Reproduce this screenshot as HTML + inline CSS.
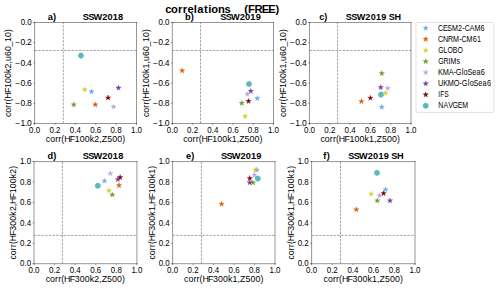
<!DOCTYPE html>
<html><head><meta charset="utf-8"><title>correlations (FREE)</title>
<style>html,body{margin:0;padding:0;background:#fff;width:500px;height:289px;overflow:hidden}
svg text{font-family:"Liberation Sans",sans-serif;fill:#000;stroke:none;white-space:pre}</style></head>
<body>
<svg width="500" height="289" viewBox="0 0 720 416.16" style="display:block"> <defs> <style type="text/css">*{stroke-linejoin: round; stroke-linecap: butt}</style> </defs> <g id="figure_1"> <g id="patch_1"> <path d="M 0 416.16 L 720 416.16 L 720 0 L 0 0 z " style="fill: #ffffff"/> </g> <g id="axes_1"> <g id="patch_2"> <path d="M 49.824 177.84 L 196.56 177.84 L 196.56 32.4 L 49.824 32.4 z " style="fill: #ffffff"/> </g> <g id="line2d_1"> <defs> <path id="maff2723c5c" d="M 0 4 C 1.060812 4 2.078319 3.578535 2.828427 2.828427 C 3.578535 2.078319 4 1.060812 4 0 C 4 -1.060812 3.578535 -2.078319 2.828427 -2.828427 C 2.078319 -3.578535 1.060812 -4 0 -4 C -1.060812 -4 -2.078319 -3.578535 -2.828427 -2.828427 C -3.578535 -2.078319 -4 -1.060812 -4 0 C -4 1.060812 -3.578535 2.078319 -2.828427 2.828427 C -2.078319 3.578535 -1.060812 4 0 4 z " style="stroke: #5ab8c0; stroke-width: 0.5"/> </defs> <g clip-path="url(#pabbf2b5a39)"> <use href="#maff2723c5c" x="116.568" y="80.136" style="fill: #5ab8c0; stroke: #5ab8c0; stroke-width: 0.5"/> </g> </g> <g id="matplotlib.axis_1"> <g id="xtick_1"> <g id="line2d_2"> <defs> <path id="m4820a3fe7b" d="M 0 0 L 0 2 " style="stroke: #000000; stroke-width: 0.6"/> </defs> <g> <use href="#m4820a3fe7b" x="49.824" y="177.84" style="stroke: #000000; stroke-width: 0.6"/> </g> </g> <g id="text_1"> <text x="-0 6.56 9.84" y="0" style="font-size:11.8px" transform="translate(49.82 190.94) translate(-7.95 0) scale(0.9695 1)">0.0</text> </g> </g> <g id="xtick_2"> <g id="line2d_3"> <g> <use href="#m4820a3fe7b" x="79.1712" y="177.84" style="stroke: #000000; stroke-width: 0.6"/> </g> </g> <g id="text_2"> <text x="-0 6.56 9.84" y="0" style="font-size:11.8px" transform="translate(79.17 190.94) translate(-7.95 0) scale(0.9695 1)">0.2</text> </g> </g> <g id="xtick_3"> <g id="line2d_4"> <g> <use href="#m4820a3fe7b" x="108.5184" y="177.84" style="stroke: #000000; stroke-width: 0.6"/> </g> </g> <g id="text_3"> <text x="-0 6.56 9.84" y="0" style="font-size:11.8px" transform="translate(108.52 190.94) translate(-7.95 0) scale(0.9695 1)">0.4</text> </g> </g> <g id="xtick_4"> <g id="line2d_5"> <g> <use href="#m4820a3fe7b" x="137.8656" y="177.84" style="stroke: #000000; stroke-width: 0.6"/> </g> </g> <g id="text_4"> <text x="-0 6.56 9.84" y="0" style="font-size:11.8px" transform="translate(137.87 190.94) translate(-7.95 0) scale(0.9695 1)">0.6</text> </g> </g> <g id="xtick_5"> <g id="line2d_6"> <g> <use href="#m4820a3fe7b" x="167.2128" y="177.84" style="stroke: #000000; stroke-width: 0.6"/> </g> </g> <g id="text_5"> <text x="-0 6.56 9.84" y="0" style="font-size:11.8px" transform="translate(167.21 190.94) translate(-7.95 0) scale(0.9695 1)">0.8</text> </g> </g> <g id="xtick_6"> <g id="line2d_7"> <g> <use href="#m4820a3fe7b" x="196.56" y="177.84" style="stroke: #000000; stroke-width: 0.6"/> </g> </g> <g id="text_6"> <text x="-0 6.56 9.84" y="0" style="font-size:11.8px" transform="translate(196.56 190.94) translate(-7.95 0) scale(0.9695 1)">1.0</text> </g> </g> <g id="text_7"> <text x="-0.07 6.13 13.3 17.94 22.25 26.23 34.41 41.58 48.75 55.93 63.13 69.62 76.76 80.31 88.1 95.27 102.44 109.64" y="0" style="font-size:12.66px" transform="translate(123.19 204.6) translate(-57.12 0) scale(1.0026 1)">corr(HF100k2,Z500)</text> </g> </g> <g id="matplotlib.axis_2"> <g id="ytick_1"> <g id="line2d_8"> <defs> <path id="mfa2b56b965" d="M 0 0 L -2 0 " style="stroke: #000000; stroke-width: 0.6"/> </defs> <g> <use href="#mfa2b56b965" x="49.824" y="177.84" style="stroke: #000000; stroke-width: 0.6"/> </g> </g> <g id="text_8"> <text x="0.57 7.81 14.03 16.96" y="0" style="font-size:11.8px" transform="translate(45.62 181.64) translate(-24.28 0) scale(1.0424 1)">−1.0</text> </g> </g> <g id="ytick_2"> <g id="line2d_9"> <g> <use href="#mfa2b56b965" x="49.824" y="148.752" style="stroke: #000000; stroke-width: 0.6"/> </g> </g> <g id="text_9"> <text x="0.57 7.81 14.03 16.96" y="0" style="font-size:11.8px" transform="translate(45.62 152.55) translate(-24.28 0) scale(1.0424 1)">−0.8</text> </g> </g> <g id="ytick_3"> <g id="line2d_10"> <g> <use href="#mfa2b56b965" x="49.824" y="119.664" style="stroke: #000000; stroke-width: 0.6"/> </g> </g> <g id="text_10"> <text x="0.57 7.81 14.03 16.96" y="0" style="font-size:11.8px" transform="translate(45.62 123.46) translate(-24.28 0) scale(1.0424 1)">−0.6</text> </g> </g> <g id="ytick_4"> <g id="line2d_11"> <g> <use href="#mfa2b56b965" x="49.824" y="90.576" style="stroke: #000000; stroke-width: 0.6"/> </g> </g> <g id="text_11"> <text x="0.57 7.81 14.03 16.96" y="0" style="font-size:11.8px" transform="translate(45.62 94.38) translate(-24.28 0) scale(1.0424 1)">−0.4</text> </g> </g> <g id="ytick_5"> <g id="line2d_12"> <g> <use href="#mfa2b56b965" x="49.824" y="61.488" style="stroke: #000000; stroke-width: 0.6"/> </g> </g> <g id="text_12"> <text x="0.57 7.81 14.03 16.96" y="0" style="font-size:11.8px" transform="translate(45.62 65.29) translate(-24.28 0) scale(1.0424 1)">−0.2</text> </g> </g> <g id="ytick_6"> <g id="line2d_13"> <g> <use href="#mfa2b56b965" x="49.824" y="32.4" style="stroke: #000000; stroke-width: 0.6"/> </g> </g> <g id="text_13"> <text x="-0 6.56 9.84" y="0" style="font-size:11.8px" transform="translate(45.62 36.2) translate(-15.9 0) scale(0.9695 1)">0.0</text> </g> </g> <g id="text_14"> <text x="-0.04 6.21 13.44 18.12 22.48 26.51 34.76 42 49.23 56.47 63.74 70.29 77.48 81.13 88.36 95.59 102.05 108.52 115.75 123" y="0" style="font-size:12.66px" transform="translate(15.68 105.12) rotate(-90) translate(-63.25 0) scale(0.9935 1)">corr(HF100k2,u60_10)</text> </g> </g> <g id="line2d_14"> <path d="M 91.152 177.84 L 91.152 32.4 " clip-path="url(#pabbf2b5a39)" style="fill: none; stroke-dasharray: 3.7,1.6; stroke-dashoffset: 0; stroke: #808080"/> </g> <g id="line2d_15"> <path d="M 49.824 72.72 L 196.56 72.72 " clip-path="url(#pabbf2b5a39)" style="fill: none; stroke-dasharray: 3.7,1.6; stroke-dashoffset: 0; stroke: #808080"/> </g> <g id="line2d_16"> <defs> <path id="m5a22eccf31" d="M 0 -4 L -0.898056 -1.236068 L -3.804226 -1.236068 L -1.453085 0.472136 L -2.351141 3.236068 L -0 1.527864 L 2.351141 3.236068 L 1.453085 0.472136 L 3.804226 -1.236068 L 0.898056 -1.236068 z " style="stroke: #6ba6e9; stroke-width: 0.5; stroke-linejoin: bevel"/> </defs> <g clip-path="url(#pabbf2b5a39)"> <use href="#m5a22eccf31" x="131.76" y="132.048" style="fill: #6ba6e9; stroke: #6ba6e9; stroke-width: 0.5; stroke-linejoin: bevel"/> </g> </g> <g id="line2d_17"> <defs> <path id="mae2730d589" d="M 0 -4 L -0.898056 -1.236068 L -3.804226 -1.236068 L -1.453085 0.472136 L -2.351141 3.236068 L -0 1.527864 L 2.351141 3.236068 L 1.453085 0.472136 L 3.804226 -1.236068 L 0.898056 -1.236068 z " style="stroke: #d95f02; stroke-width: 0.5; stroke-linejoin: bevel"/> </defs> <g clip-path="url(#pabbf2b5a39)"> <use href="#mae2730d589" x="137.232" y="150.768" style="fill: #d95f02; stroke: #d95f02; stroke-width: 0.5; stroke-linejoin: bevel"/> </g> </g> <g id="line2d_18"> <defs> <path id="m6d7258205c" d="M 0 -4 L -0.898056 -1.236068 L -3.804226 -1.236068 L -1.453085 0.472136 L -2.351141 3.236068 L -0 1.527864 L 2.351141 3.236068 L 1.453085 0.472136 L 3.804226 -1.236068 L 0.898056 -1.236068 z " style="stroke: #d6ce2e; stroke-width: 0.5; stroke-linejoin: bevel"/> </defs> <g clip-path="url(#pabbf2b5a39)"> <use href="#m6d7258205c" x="121.968" y="129.096" style="fill: #d6ce2e; stroke: #d6ce2e; stroke-width: 0.5; stroke-linejoin: bevel"/> </g> </g> <g id="line2d_19"> <defs> <path id="ma66a41088c" d="M 0 -4 L -0.898056 -1.236068 L -3.804226 -1.236068 L -1.453085 0.472136 L -2.351141 3.236068 L -0 1.527864 L 2.351141 3.236068 L 1.453085 0.472136 L 3.804226 -1.236068 L 0.898056 -1.236068 z " style="stroke: #6b9a2c; stroke-width: 0.5; stroke-linejoin: bevel"/> </defs> <g clip-path="url(#pabbf2b5a39)"> <use href="#ma66a41088c" x="106.272" y="150.768" style="fill: #6b9a2c; stroke: #6b9a2c; stroke-width: 0.5; stroke-linejoin: bevel"/> </g> </g> <g id="line2d_20"> <defs> <path id="m776f7f7f80" d="M 0 -4 L -0.898056 -1.236068 L -3.804226 -1.236068 L -1.453085 0.472136 L -2.351141 3.236068 L -0 1.527864 L 2.351141 3.236068 L 1.453085 0.472136 L 3.804226 -1.236068 L 0.898056 -1.236068 z " style="stroke: #bca4dd; stroke-width: 0.5; stroke-linejoin: bevel"/> </defs> <g clip-path="url(#pabbf2b5a39)"> <use href="#m776f7f7f80" x="163.44" y="153.792" style="fill: #bca4dd; stroke: #bca4dd; stroke-width: 0.5; stroke-linejoin: bevel"/> </g> </g> <g id="line2d_21"> <defs> <path id="m835cb8bf85" d="M 0 -4 L -0.898056 -1.236068 L -3.804226 -1.236068 L -1.453085 0.472136 L -2.351141 3.236068 L -0 1.527864 L 2.351141 3.236068 L 1.453085 0.472136 L 3.804226 -1.236068 L 0.898056 -1.236068 z " style="stroke: #7836ae; stroke-width: 0.5; stroke-linejoin: bevel"/> </defs> <g clip-path="url(#pabbf2b5a39)"> <use href="#m835cb8bf85" x="170.64" y="126.576" style="fill: #7836ae; stroke: #7836ae; stroke-width: 0.5; stroke-linejoin: bevel"/> </g> </g> <g id="line2d_22"> <defs> <path id="m37d7a6bea6" d="M 0 -4 L -0.898056 -1.236068 L -3.804226 -1.236068 L -1.453085 0.472136 L -2.351141 3.236068 L -0 1.527864 L 2.351141 3.236068 L 1.453085 0.472136 L 3.804226 -1.236068 L 0.898056 -1.236068 z " style="stroke: #7a0000; stroke-width: 0.5; stroke-linejoin: bevel"/> </defs> <g clip-path="url(#pabbf2b5a39)"> <use href="#m37d7a6bea6" x="155.664" y="140.76" style="fill: #7a0000; stroke: #7a0000; stroke-width: 0.5; stroke-linejoin: bevel"/> </g> </g> <g id="patch_3"> <path d="M 49.824 177.84 L 49.824 32.4 " style="fill: none; stroke: #000000; stroke-width: 0.6; stroke-linejoin: miter; stroke-linecap: square"/> </g> <g id="patch_4"> <path d="M 196.56 177.84 L 196.56 32.4 " style="fill: none; stroke: #000000; stroke-width: 0.6; stroke-linejoin: miter; stroke-linecap: square"/> </g> <g id="patch_5"> <path d="M 49.824 177.84 L 196.56 177.84 " style="fill: none; stroke: #000000; stroke-width: 0.6; stroke-linejoin: miter; stroke-linecap: square"/> </g> <g id="patch_6"> <path d="M 49.824 32.4 L 196.56 32.4 " style="fill: none; stroke: #000000; stroke-width: 0.6; stroke-linejoin: miter; stroke-linecap: square"/> </g> <g id="text_15"> <text x="0.01 7.14 11.57 15.11 18.66 22.2 25.74 29.28 32.82 36.36 39.9 43.44 46.48 53.81 60.92 72.46 79.53 86.61 93.69" y="0" style="font-size:12.32px;font-weight:700" transform="translate(123.19 28.9) translate(-54.42 0) scale(1.0814 1)">a)          SSW2018</text> </g> </g> <g id="axes_2"> <g id="patch_7"> <path d="M 248.184 177.84 L 393.84 177.84 L 393.84 32.4 L 248.184 32.4 z " style="fill: #ffffff"/> </g> <g id="line2d_23"> <g clip-path="url(#p98be9c0c4a)"> <use href="#maff2723c5c" x="358.56" y="120.96" style="fill: #5ab8c0; stroke: #5ab8c0; stroke-width: 0.5"/> </g> </g> <g id="matplotlib.axis_3"> <g id="xtick_7"> <g id="line2d_24"> <g> <use href="#m4820a3fe7b" x="248.184" y="177.84" style="stroke: #000000; stroke-width: 0.6"/> </g> </g> <g id="text_16"> <text x="-0 6.56 9.84" y="0" style="font-size:11.8px" transform="translate(248.18 190.94) translate(-7.95 0) scale(0.9695 1)">0.0</text> </g> </g> <g id="xtick_8"> <g id="line2d_25"> <g> <use href="#m4820a3fe7b" x="277.3152" y="177.84" style="stroke: #000000; stroke-width: 0.6"/> </g> </g> <g id="text_17"> <text x="-0 6.56 9.84" y="0" style="font-size:11.8px" transform="translate(277.32 190.94) translate(-7.95 0) scale(0.9695 1)">0.2</text> </g> </g> <g id="xtick_9"> <g id="line2d_26"> <g> <use href="#m4820a3fe7b" x="306.4464" y="177.84" style="stroke: #000000; stroke-width: 0.6"/> </g> </g> <g id="text_18"> <text x="-0 6.56 9.84" y="0" style="font-size:11.8px" transform="translate(306.45 190.94) translate(-7.95 0) scale(0.9695 1)">0.4</text> </g> </g> <g id="xtick_10"> <g id="line2d_27"> <g> <use href="#m4820a3fe7b" x="335.5776" y="177.84" style="stroke: #000000; stroke-width: 0.6"/> </g> </g> <g id="text_19"> <text x="-0 6.56 9.84" y="0" style="font-size:11.8px" transform="translate(335.58 190.94) translate(-7.95 0) scale(0.9695 1)">0.6</text> </g> </g> <g id="xtick_11"> <g id="line2d_28"> <g> <use href="#m4820a3fe7b" x="364.7088" y="177.84" style="stroke: #000000; stroke-width: 0.6"/> </g> </g> <g id="text_20"> <text x="-0 6.56 9.84" y="0" style="font-size:11.8px" transform="translate(364.71 190.94) translate(-7.95 0) scale(0.9695 1)">0.8</text> </g> </g> <g id="xtick_12"> <g id="line2d_29"> <g> <use href="#m4820a3fe7b" x="393.84" y="177.84" style="stroke: #000000; stroke-width: 0.6"/> </g> </g> <g id="text_21"> <text x="-0 6.56 9.84" y="0" style="font-size:11.8px" transform="translate(393.84 190.94) translate(-7.95 0) scale(0.9695 1)">1.0</text> </g> </g> <g id="text_22"> <text x="-0.07 6.13 13.3 17.94 22.25 26.23 34.41 41.58 48.75 55.93 63.13 69.62 76.76 80.31 88.1 95.27 102.44 109.64" y="0" style="font-size:12.66px" transform="translate(321.01 204.6) translate(-57.12 0) scale(1.0026 1)">corr(HF100k1,Z500)</text> </g> </g> <g id="matplotlib.axis_4"> <g id="ytick_7"> <g id="line2d_30"> <g> <use href="#mfa2b56b965" x="248.184" y="177.84" style="stroke: #000000; stroke-width: 0.6"/> </g> </g> <g id="text_23"> <text x="0.57 7.81 14.03 16.96" y="0" style="font-size:11.8px" transform="translate(243.98 181.64) translate(-24.28 0) scale(1.0424 1)">−1.0</text> </g> </g> <g id="ytick_8"> <g id="line2d_31"> <g> <use href="#mfa2b56b965" x="248.184" y="148.752" style="stroke: #000000; stroke-width: 0.6"/> </g> </g> <g id="text_24"> <text x="0.57 7.81 14.03 16.96" y="0" style="font-size:11.8px" transform="translate(243.98 152.55) translate(-24.28 0) scale(1.0424 1)">−0.8</text> </g> </g> <g id="ytick_9"> <g id="line2d_32"> <g> <use href="#mfa2b56b965" x="248.184" y="119.664" style="stroke: #000000; stroke-width: 0.6"/> </g> </g> <g id="text_25"> <text x="0.57 7.81 14.03 16.96" y="0" style="font-size:11.8px" transform="translate(243.98 123.46) translate(-24.28 0) scale(1.0424 1)">−0.6</text> </g> </g> <g id="ytick_10"> <g id="line2d_33"> <g> <use href="#mfa2b56b965" x="248.184" y="90.576" style="stroke: #000000; stroke-width: 0.6"/> </g> </g> <g id="text_26"> <text x="0.57 7.81 14.03 16.96" y="0" style="font-size:11.8px" transform="translate(243.98 94.38) translate(-24.28 0) scale(1.0424 1)">−0.4</text> </g> </g> <g id="ytick_11"> <g id="line2d_34"> <g> <use href="#mfa2b56b965" x="248.184" y="61.488" style="stroke: #000000; stroke-width: 0.6"/> </g> </g> <g id="text_27"> <text x="0.57 7.81 14.03 16.96" y="0" style="font-size:11.8px" transform="translate(243.98 65.29) translate(-24.28 0) scale(1.0424 1)">−0.2</text> </g> </g> <g id="ytick_12"> <g id="line2d_35"> <g> <use href="#mfa2b56b965" x="248.184" y="32.4" style="stroke: #000000; stroke-width: 0.6"/> </g> </g> <g id="text_28"> <text x="-0 6.56 9.84" y="0" style="font-size:11.8px" transform="translate(243.98 36.2) translate(-15.9 0) scale(0.9695 1)">0.0</text> </g> </g> <g id="text_29"> <text x="-0.04 6.21 13.44 18.12 22.48 26.51 34.76 42 49.23 56.47 63.74 70.29 77.48 81.13 88.36 95.59 102.05 108.52 115.75 123" y="0" style="font-size:12.66px" transform="translate(214.04 105.12) rotate(-90) translate(-63.25 0) scale(0.9935 1)">corr(HF100k1,u60_10)</text> </g> </g> <g id="line2d_36"> <path d="M 288.72 177.84 L 288.72 32.4 " clip-path="url(#p98be9c0c4a)" style="fill: none; stroke-dasharray: 3.7,1.6; stroke-dashoffset: 0; stroke: #808080"/> </g> <g id="line2d_37"> <path d="M 248.184 72.72 L 393.84 72.72 " clip-path="url(#p98be9c0c4a)" style="fill: none; stroke-dasharray: 3.7,1.6; stroke-dashoffset: 0; stroke: #808080"/> </g> <g id="line2d_38"> <g clip-path="url(#p98be9c0c4a)"> <use href="#m5a22eccf31" x="370.512" y="141.696" style="fill: #6ba6e9; stroke: #6ba6e9; stroke-width: 0.5; stroke-linejoin: bevel"/> </g> </g> <g id="line2d_39"> <g clip-path="url(#p98be9c0c4a)"> <use href="#mae2730d589" x="262.224" y="101.808" style="fill: #d95f02; stroke: #d95f02; stroke-width: 0.5; stroke-linejoin: bevel"/> </g> </g> <g id="line2d_40"> <g clip-path="url(#p98be9c0c4a)"> <use href="#m6d7258205c" x="352.944" y="167.616" style="fill: #d6ce2e; stroke: #d6ce2e; stroke-width: 0.5; stroke-linejoin: bevel"/> </g> </g> <g id="line2d_41"> <g clip-path="url(#p98be9c0c4a)"> <use href="#ma66a41088c" x="348.192" y="148.608" style="fill: #6b9a2c; stroke: #6b9a2c; stroke-width: 0.5; stroke-linejoin: bevel"/> </g> </g> <g id="line2d_42"> <g clip-path="url(#p98be9c0c4a)"> <use href="#m776f7f7f80" x="356.112" y="135.648" style="fill: #bca4dd; stroke: #bca4dd; stroke-width: 0.5; stroke-linejoin: bevel"/> </g> </g> <g id="line2d_43"> <g clip-path="url(#p98be9c0c4a)"> <use href="#m835cb8bf85" x="361.152" y="131.328" style="fill: #7836ae; stroke: #7836ae; stroke-width: 0.5; stroke-linejoin: bevel"/> </g> </g> <g id="line2d_44"> <g clip-path="url(#p98be9c0c4a)"> <use href="#m37d7a6bea6" x="357.84" y="145.728" style="fill: #7a0000; stroke: #7a0000; stroke-width: 0.5; stroke-linejoin: bevel"/> </g> </g> <g id="patch_8"> <path d="M 248.184 177.84 L 248.184 32.4 " style="fill: none; stroke: #000000; stroke-width: 0.6; stroke-linejoin: miter; stroke-linecap: square"/> </g> <g id="patch_9"> <path d="M 393.84 177.84 L 393.84 32.4 " style="fill: none; stroke: #000000; stroke-width: 0.6; stroke-linejoin: miter; stroke-linecap: square"/> </g> <g id="patch_10"> <path d="M 248.184 177.84 L 393.84 177.84 " style="fill: none; stroke: #000000; stroke-width: 0.6; stroke-linejoin: miter; stroke-linecap: square"/> </g> <g id="patch_11"> <path d="M 248.184 32.4 L 393.84 32.4 " style="fill: none; stroke: #000000; stroke-width: 0.6; stroke-linejoin: miter; stroke-linecap: square"/> </g> <g id="text_30"> <text x="-0.11 7.58 12.02 15.57 19.13 22.68 26.23 29.78 33.33 36.88 40.43 43.98 47.03 54.37 61.51 73.07 80.16 87.26 94.35" y="0" style="font-size:12.32px;font-weight:700" transform="translate(321.01 28.9) translate(-54.65 0) scale(1.0786 1)">b)          SSW2019</text> </g> </g> <g id="axes_3"> <g id="patch_12"> <path d="M 445.68 177.84 L 591.84 177.84 L 591.84 32.4 L 445.68 32.4 z " style="fill: #ffffff"/> </g> <g id="line2d_45"> <g clip-path="url(#p1741dfff88)"> <use href="#maff2723c5c" x="548.64" y="136.296" style="fill: #5ab8c0; stroke: #5ab8c0; stroke-width: 0.5"/> </g> </g> <g id="matplotlib.axis_5"> <g id="xtick_13"> <g id="line2d_46"> <g> <use href="#m4820a3fe7b" x="445.68" y="177.84" style="stroke: #000000; stroke-width: 0.6"/> </g> </g> <g id="text_31"> <text x="-0 6.56 9.84" y="0" style="font-size:11.8px" transform="translate(445.68 190.94) translate(-7.95 0) scale(0.9695 1)">0.0</text> </g> </g> <g id="xtick_14"> <g id="line2d_47"> <g> <use href="#m4820a3fe7b" x="474.912" y="177.84" style="stroke: #000000; stroke-width: 0.6"/> </g> </g> <g id="text_32"> <text x="-0 6.56 9.84" y="0" style="font-size:11.8px" transform="translate(474.91 190.94) translate(-7.95 0) scale(0.9695 1)">0.2</text> </g> </g> <g id="xtick_15"> <g id="line2d_48"> <g> <use href="#m4820a3fe7b" x="504.144" y="177.84" style="stroke: #000000; stroke-width: 0.6"/> </g> </g> <g id="text_33"> <text x="-0 6.56 9.84" y="0" style="font-size:11.8px" transform="translate(504.14 190.94) translate(-7.95 0) scale(0.9695 1)">0.4</text> </g> </g> <g id="xtick_16"> <g id="line2d_49"> <g> <use href="#m4820a3fe7b" x="533.376" y="177.84" style="stroke: #000000; stroke-width: 0.6"/> </g> </g> <g id="text_34"> <text x="-0 6.56 9.84" y="0" style="font-size:11.8px" transform="translate(533.38 190.94) translate(-7.95 0) scale(0.9695 1)">0.6</text> </g> </g> <g id="xtick_17"> <g id="line2d_50"> <g> <use href="#m4820a3fe7b" x="562.608" y="177.84" style="stroke: #000000; stroke-width: 0.6"/> </g> </g> <g id="text_35"> <text x="-0 6.56 9.84" y="0" style="font-size:11.8px" transform="translate(562.61 190.94) translate(-7.95 0) scale(0.9695 1)">0.8</text> </g> </g> <g id="xtick_18"> <g id="line2d_51"> <g> <use href="#m4820a3fe7b" x="591.84" y="177.84" style="stroke: #000000; stroke-width: 0.6"/> </g> </g> <g id="text_36"> <text x="-0 6.56 9.84" y="0" style="font-size:11.8px" transform="translate(591.84 190.94) translate(-7.95 0) scale(0.9695 1)">1.0</text> </g> </g> <g id="text_37"> <text x="-0.07 6.13 13.3 17.94 22.25 26.23 34.41 41.58 48.75 55.93 63.13 69.62 76.76 80.31 88.1 95.27 102.44 109.64" y="0" style="font-size:12.66px" transform="translate(518.76 204.6) translate(-57.12 0) scale(1.0026 1)">corr(HF100k1,Z500)</text> </g> </g> <g id="matplotlib.axis_6"> <g id="ytick_13"> <g id="line2d_52"> <g> <use href="#mfa2b56b965" x="445.68" y="177.84" style="stroke: #000000; stroke-width: 0.6"/> </g> </g> <g id="text_38"> <text x="0.57 7.81 14.03 16.96" y="0" style="font-size:11.8px" transform="translate(441.48 181.64) translate(-24.28 0) scale(1.0424 1)">−1.0</text> </g> </g> <g id="ytick_14"> <g id="line2d_53"> <g> <use href="#mfa2b56b965" x="445.68" y="148.752" style="stroke: #000000; stroke-width: 0.6"/> </g> </g> <g id="text_39"> <text x="0.57 7.81 14.03 16.96" y="0" style="font-size:11.8px" transform="translate(441.48 152.55) translate(-24.28 0) scale(1.0424 1)">−0.8</text> </g> </g> <g id="ytick_15"> <g id="line2d_54"> <g> <use href="#mfa2b56b965" x="445.68" y="119.664" style="stroke: #000000; stroke-width: 0.6"/> </g> </g> <g id="text_40"> <text x="0.57 7.81 14.03 16.96" y="0" style="font-size:11.8px" transform="translate(441.48 123.46) translate(-24.28 0) scale(1.0424 1)">−0.6</text> </g> </g> <g id="ytick_16"> <g id="line2d_55"> <g> <use href="#mfa2b56b965" x="445.68" y="90.576" style="stroke: #000000; stroke-width: 0.6"/> </g> </g> <g id="text_41"> <text x="0.57 7.81 14.03 16.96" y="0" style="font-size:11.8px" transform="translate(441.48 94.38) translate(-24.28 0) scale(1.0424 1)">−0.4</text> </g> </g> <g id="ytick_17"> <g id="line2d_56"> <g> <use href="#mfa2b56b965" x="445.68" y="61.488" style="stroke: #000000; stroke-width: 0.6"/> </g> </g> <g id="text_42"> <text x="0.57 7.81 14.03 16.96" y="0" style="font-size:11.8px" transform="translate(441.48 65.29) translate(-24.28 0) scale(1.0424 1)">−0.2</text> </g> </g> <g id="ytick_18"> <g id="line2d_57"> <g> <use href="#mfa2b56b965" x="445.68" y="32.4" style="stroke: #000000; stroke-width: 0.6"/> </g> </g> <g id="text_43"> <text x="-0 6.56 9.84" y="0" style="font-size:11.8px" transform="translate(441.48 36.2) translate(-15.9 0) scale(0.9695 1)">0.0</text> </g> </g> <g id="text_44"> <text x="-0.04 6.21 13.44 18.12 22.48 26.51 34.76 42 49.23 56.47 63.74 70.29 77.48 81.13 88.36 95.59 102.05 108.52 115.75 123" y="0" style="font-size:12.66px" transform="translate(411.53 105.12) rotate(-90) translate(-63.25 0) scale(0.9935 1)">corr(HF100k1,u60_10)</text> </g> </g> <g id="line2d_58"> <path d="M 486.144 177.84 L 486.144 32.4 " clip-path="url(#p1741dfff88)" style="fill: none; stroke-dasharray: 3.7,1.6; stroke-dashoffset: 0; stroke: #808080"/> </g> <g id="line2d_59"> <path d="M 445.68 72.72 L 591.84 72.72 " clip-path="url(#p1741dfff88)" style="fill: none; stroke-dasharray: 3.7,1.6; stroke-dashoffset: 0; stroke: #808080"/> </g> <g id="line2d_60"> <g clip-path="url(#p1741dfff88)"> <use href="#m5a22eccf31" x="549.792" y="154.224" style="fill: #6ba6e9; stroke: #6ba6e9; stroke-width: 0.5; stroke-linejoin: bevel"/> </g> </g> <g id="line2d_61"> <g clip-path="url(#p1741dfff88)"> <use href="#mae2730d589" x="520.416" y="146.016" style="fill: #d95f02; stroke: #d95f02; stroke-width: 0.5; stroke-linejoin: bevel"/> </g> </g> <g id="line2d_62"> <g clip-path="url(#p1741dfff88)"> <use href="#m6d7258205c" x="554.976" y="134.064" style="fill: #d6ce2e; stroke: #d6ce2e; stroke-width: 0.5; stroke-linejoin: bevel"/> </g> </g> <g id="line2d_63"> <g clip-path="url(#p1741dfff88)"> <use href="#ma66a41088c" x="549.792" y="105.696" style="fill: #6b9a2c; stroke: #6b9a2c; stroke-width: 0.5; stroke-linejoin: bevel"/> </g> </g> <g id="line2d_64"> <g clip-path="url(#p1741dfff88)"> <use href="#m776f7f7f80" x="558.288" y="127.152" style="fill: #bca4dd; stroke: #bca4dd; stroke-width: 0.5; stroke-linejoin: bevel"/> </g> </g> <g id="line2d_65"> <g clip-path="url(#p1741dfff88)"> <use href="#m835cb8bf85" x="548.352" y="125.856" style="fill: #7836ae; stroke: #7836ae; stroke-width: 0.5; stroke-linejoin: bevel"/> </g> </g> <g id="line2d_66"> <g clip-path="url(#p1741dfff88)"> <use href="#m37d7a6bea6" x="533.376" y="141.12" style="fill: #7a0000; stroke: #7a0000; stroke-width: 0.5; stroke-linejoin: bevel"/> </g> </g> <g id="patch_13"> <path d="M 445.68 177.84 L 445.68 32.4 " style="fill: none; stroke: #000000; stroke-width: 0.6; stroke-linejoin: miter; stroke-linecap: square"/> </g> <g id="patch_14"> <path d="M 591.84 177.84 L 591.84 32.4 " style="fill: none; stroke: #000000; stroke-width: 0.6; stroke-linejoin: miter; stroke-linecap: square"/> </g> <g id="patch_15"> <path d="M 445.68 177.84 L 591.84 177.84 " style="fill: none; stroke: #000000; stroke-width: 0.6; stroke-linejoin: miter; stroke-linecap: square"/> </g> <g id="patch_16"> <path d="M 445.68 32.4 L 591.84 32.4 " style="fill: none; stroke: #000000; stroke-width: 0.6; stroke-linejoin: miter; stroke-linecap: square"/> </g> <g id="text_45"> <text x="-0.35 6.48 11.01 14.63 18.24 21.86 25.48 29.1 32.71 35.87 43.35 50.65 62.39 69.62 76.85 84.08 91.22 94.37 102.13" y="0" style="font-size:12.32px;font-weight:700" transform="translate(518.76 28.9) translate(-58.71 0) scale(1.0585 1)">c)       SSW2019 SH</text> </g> </g> <g id="axes_4"> <g id="patch_17"> <path d="M 48.96 379.728 L 197.136 379.728 L 197.136 232.704 L 48.96 232.704 z " style="fill: #ffffff"/> </g> <g id="line2d_67"> <g clip-path="url(#pd72660872e)"> <use href="#maff2723c5c" x="140.832" y="267.552" style="fill: #5ab8c0; stroke: #5ab8c0; stroke-width: 0.5"/> </g> </g> <g id="matplotlib.axis_7"> <g id="xtick_19"> <g id="line2d_68"> <g> <use href="#m4820a3fe7b" x="48.96" y="379.728" style="stroke: #000000; stroke-width: 0.6"/> </g> </g> <g id="text_46"> <text x="-0 6.56 9.84" y="0" style="font-size:11.8px" transform="translate(48.96 392.83) translate(-7.95 0) scale(0.9695 1)">0.0</text> </g> </g> <g id="xtick_20"> <g id="line2d_69"> <g> <use href="#m4820a3fe7b" x="78.5952" y="379.728" style="stroke: #000000; stroke-width: 0.6"/> </g> </g> <g id="text_47"> <text x="-0 6.56 9.84" y="0" style="font-size:11.8px" transform="translate(78.6 392.83) translate(-7.95 0) scale(0.9695 1)">0.2</text> </g> </g> <g id="xtick_21"> <g id="line2d_70"> <g> <use href="#m4820a3fe7b" x="108.2304" y="379.728" style="stroke: #000000; stroke-width: 0.6"/> </g> </g> <g id="text_48"> <text x="-0 6.56 9.84" y="0" style="font-size:11.8px" transform="translate(108.23 392.83) translate(-7.95 0) scale(0.9695 1)">0.4</text> </g> </g> <g id="xtick_22"> <g id="line2d_71"> <g> <use href="#m4820a3fe7b" x="137.8656" y="379.728" style="stroke: #000000; stroke-width: 0.6"/> </g> </g> <g id="text_49"> <text x="-0 6.56 9.84" y="0" style="font-size:11.8px" transform="translate(137.87 392.83) translate(-7.95 0) scale(0.9695 1)">0.6</text> </g> </g> <g id="xtick_23"> <g id="line2d_72"> <g> <use href="#m4820a3fe7b" x="167.5008" y="379.728" style="stroke: #000000; stroke-width: 0.6"/> </g> </g> <g id="text_50"> <text x="-0 6.56 9.84" y="0" style="font-size:11.8px" transform="translate(167.5 392.83) translate(-7.95 0) scale(0.9695 1)">0.8</text> </g> </g> <g id="xtick_24"> <g id="line2d_73"> <g> <use href="#m4820a3fe7b" x="197.136" y="379.728" style="stroke: #000000; stroke-width: 0.6"/> </g> </g> <g id="text_51"> <text x="-0 6.56 9.84" y="0" style="font-size:11.8px" transform="translate(197.14 392.83) translate(-7.95 0) scale(0.9695 1)">1.0</text> </g> </g> <g id="text_52"> <text x="-0.07 6.13 13.3 17.94 22.25 26.23 34.41 41.58 48.75 55.93 63.13 69.62 76.76 80.31 88.1 95.27 102.44 109.64" y="0" style="font-size:12.66px" transform="translate(123.05 406.49) translate(-57.12 0) scale(1.0026 1)">corr(HF300k2,Z500)</text> </g> </g> <g id="matplotlib.axis_8"> <g id="ytick_19"> <g id="line2d_74"> <g> <use href="#mfa2b56b965" x="48.96" y="379.728" style="stroke: #000000; stroke-width: 0.6"/> </g> </g> <g id="text_53"> <text x="-0 6.56 9.84" y="0" style="font-size:11.8px" transform="translate(44.76 383.53) translate(-15.9 0) scale(0.9695 1)">0.0</text> </g> </g> <g id="ytick_20"> <g id="line2d_75"> <g> <use href="#mfa2b56b965" x="48.96" y="350.3232" style="stroke: #000000; stroke-width: 0.6"/> </g> </g> <g id="text_54"> <text x="-0 6.56 9.84" y="0" style="font-size:11.8px" transform="translate(44.76 354.12) translate(-15.9 0) scale(0.9695 1)">0.2</text> </g> </g> <g id="ytick_21"> <g id="line2d_76"> <g> <use href="#mfa2b56b965" x="48.96" y="320.9184" style="stroke: #000000; stroke-width: 0.6"/> </g> </g> <g id="text_55"> <text x="-0 6.56 9.84" y="0" style="font-size:11.8px" transform="translate(44.76 324.72) translate(-15.9 0) scale(0.9695 1)">0.4</text> </g> </g> <g id="ytick_22"> <g id="line2d_77"> <g> <use href="#mfa2b56b965" x="48.96" y="291.5136" style="stroke: #000000; stroke-width: 0.6"/> </g> </g> <g id="text_56"> <text x="-0 6.56 9.84" y="0" style="font-size:11.8px" transform="translate(44.76 295.31) translate(-15.9 0) scale(0.9695 1)">0.6</text> </g> </g> <g id="ytick_23"> <g id="line2d_78"> <g> <use href="#mfa2b56b965" x="48.96" y="262.1088" style="stroke: #000000; stroke-width: 0.6"/> </g> </g> <g id="text_57"> <text x="-0 6.56 9.84" y="0" style="font-size:11.8px" transform="translate(44.76 265.91) translate(-15.9 0) scale(0.9695 1)">0.8</text> </g> </g> <g id="ytick_24"> <g id="line2d_79"> <g> <use href="#mfa2b56b965" x="48.96" y="232.704" style="stroke: #000000; stroke-width: 0.6"/> </g> </g> <g id="text_58"> <text x="-0 6.56 9.84" y="0" style="font-size:11.8px" transform="translate(44.76 236.5) translate(-15.9 0) scale(0.9695 1)">1.0</text> </g> </g> <g id="text_59"> <text x="-0.03 6.24 13.48 18.17 22.54 26.59 34.86 42.11 49.36 56.62 63.9 70.48 77.68 80.96 89.23 96.49 103.74 111 118.28 124.85 132.12" y="0" style="font-size:12.66px" transform="translate(23.51 306.22) rotate(-90) translate(-67.61 0) scale(0.9910 1)">corr(HF300k2,HF100k2)</text> </g> </g> <g id="line2d_80"> <path d="M 89.856 379.728 L 89.856 232.704 " clip-path="url(#pd72660872e)" style="fill: none; stroke-dasharray: 3.7,1.6; stroke-dashoffset: 0; stroke: #808080"/> </g> <g id="line2d_81"> <path d="M 48.96 338.976 L 197.136 338.976 " clip-path="url(#pd72660872e)" style="fill: none; stroke-dasharray: 3.7,1.6; stroke-dashoffset: 0; stroke: #808080"/> </g> <g id="line2d_82"> <g clip-path="url(#pd72660872e)"> <use href="#m5a22eccf31" x="150.48" y="260.64" style="fill: #6ba6e9; stroke: #6ba6e9; stroke-width: 0.5; stroke-linejoin: bevel"/> </g> </g> <g id="line2d_83"> <g clip-path="url(#pd72660872e)"> <use href="#mae2730d589" x="171.36" y="266.976" style="fill: #d95f02; stroke: #d95f02; stroke-width: 0.5; stroke-linejoin: bevel"/> </g> </g> <g id="line2d_84"> <g clip-path="url(#pd72660872e)"> <use href="#m6d7258205c" x="156.816" y="274.464" style="fill: #d6ce2e; stroke: #d6ce2e; stroke-width: 0.5; stroke-linejoin: bevel"/> </g> </g> <g id="line2d_85"> <g clip-path="url(#pd72660872e)"> <use href="#ma66a41088c" x="161.712" y="280.512" style="fill: #6b9a2c; stroke: #6b9a2c; stroke-width: 0.5; stroke-linejoin: bevel"/> </g> </g> <g id="line2d_86"> <g clip-path="url(#pd72660872e)"> <use href="#m776f7f7f80" x="158.976" y="249.84" style="fill: #bca4dd; stroke: #bca4dd; stroke-width: 0.5; stroke-linejoin: bevel"/> </g> </g> <g id="line2d_87"> <g clip-path="url(#pd72660872e)"> <use href="#m835cb8bf85" x="169.632" y="258.48" style="fill: #7836ae; stroke: #7836ae; stroke-width: 0.5; stroke-linejoin: bevel"/> </g> </g> <g id="line2d_88"> <g clip-path="url(#pd72660872e)"> <use href="#m37d7a6bea6" x="172.944" y="255.456" style="fill: #7a0000; stroke: #7a0000; stroke-width: 0.5; stroke-linejoin: bevel"/> </g> </g> <g id="patch_18"> <path d="M 48.96 379.728 L 48.96 232.704 " style="fill: none; stroke: #000000; stroke-width: 0.6; stroke-linejoin: miter; stroke-linecap: square"/> </g> <g id="patch_19"> <path d="M 197.136 379.728 L 197.136 232.704 " style="fill: none; stroke: #000000; stroke-width: 0.6; stroke-linejoin: miter; stroke-linecap: square"/> </g> <g id="patch_20"> <path d="M 48.96 379.728 L 197.136 379.728 " style="fill: none; stroke: #000000; stroke-width: 0.6; stroke-linejoin: miter; stroke-linecap: square"/> </g> <g id="patch_21"> <path d="M 48.96 232.704 L 197.136 232.704 " style="fill: none; stroke: #000000; stroke-width: 0.6; stroke-linejoin: miter; stroke-linecap: square"/> </g> <g id="text_60"> <text x="-0.11 7.58 12.02 15.57 19.13 22.68 26.23 29.78 33.33 36.88 40.43 43.98 47.03 54.37 61.51 73.07 80.16 87.26 94.35" y="0" style="font-size:12.32px;font-weight:700" transform="translate(123.05 229.2) translate(-54.65 0) scale(1.0786 1)">d)          SSW2018</text> </g> </g> <g id="axes_5"> <g id="patch_22"> <path d="M 248.544 379.728 L 396 379.728 L 396 232.704 L 248.544 232.704 z " style="fill: #ffffff"/> </g> <g id="line2d_89"> <g clip-path="url(#pa0bd80ae73)"> <use href="#maff2723c5c" x="371.232" y="257.112" style="fill: #5ab8c0; stroke: #5ab8c0; stroke-width: 0.5"/> </g> </g> <g id="matplotlib.axis_9"> <g id="xtick_25"> <g id="line2d_90"> <g> <use href="#m4820a3fe7b" x="248.544" y="379.728" style="stroke: #000000; stroke-width: 0.6"/> </g> </g> <g id="text_61"> <text x="-0 6.56 9.84" y="0" style="font-size:11.8px" transform="translate(248.54 392.83) translate(-7.95 0) scale(0.9695 1)">0.0</text> </g> </g> <g id="xtick_26"> <g id="line2d_91"> <g> <use href="#m4820a3fe7b" x="278.0352" y="379.728" style="stroke: #000000; stroke-width: 0.6"/> </g> </g> <g id="text_62"> <text x="-0 6.56 9.84" y="0" style="font-size:11.8px" transform="translate(278.04 392.83) translate(-7.95 0) scale(0.9695 1)">0.2</text> </g> </g> <g id="xtick_27"> <g id="line2d_92"> <g> <use href="#m4820a3fe7b" x="307.5264" y="379.728" style="stroke: #000000; stroke-width: 0.6"/> </g> </g> <g id="text_63"> <text x="-0 6.56 9.84" y="0" style="font-size:11.8px" transform="translate(307.53 392.83) translate(-7.95 0) scale(0.9695 1)">0.4</text> </g> </g> <g id="xtick_28"> <g id="line2d_93"> <g> <use href="#m4820a3fe7b" x="337.0176" y="379.728" style="stroke: #000000; stroke-width: 0.6"/> </g> </g> <g id="text_64"> <text x="-0 6.56 9.84" y="0" style="font-size:11.8px" transform="translate(337.02 392.83) translate(-7.95 0) scale(0.9695 1)">0.6</text> </g> </g> <g id="xtick_29"> <g id="line2d_94"> <g> <use href="#m4820a3fe7b" x="366.5088" y="379.728" style="stroke: #000000; stroke-width: 0.6"/> </g> </g> <g id="text_65"> <text x="-0 6.56 9.84" y="0" style="font-size:11.8px" transform="translate(366.51 392.83) translate(-7.95 0) scale(0.9695 1)">0.8</text> </g> </g> <g id="xtick_30"> <g id="line2d_95"> <g> <use href="#m4820a3fe7b" x="396" y="379.728" style="stroke: #000000; stroke-width: 0.6"/> </g> </g> <g id="text_66"> <text x="-0 6.56 9.84" y="0" style="font-size:11.8px" transform="translate(396 392.83) translate(-7.95 0) scale(0.9695 1)">1.0</text> </g> </g> <g id="text_67"> <text x="-0.07 6.13 13.3 17.94 22.25 26.23 34.41 41.58 48.75 55.93 63.13 69.62 76.76 80.31 88.1 95.27 102.44 109.64" y="0" style="font-size:12.66px" transform="translate(322.27 406.49) translate(-57.12 0) scale(1.0026 1)">corr(HF300k1,Z500)</text> </g> </g> <g id="matplotlib.axis_10"> <g id="ytick_25"> <g id="line2d_96"> <g> <use href="#mfa2b56b965" x="248.544" y="379.728" style="stroke: #000000; stroke-width: 0.6"/> </g> </g> <g id="text_68"> <text x="-0 6.56 9.84" y="0" style="font-size:11.8px" transform="translate(244.34 383.53) translate(-15.9 0) scale(0.9695 1)">0.0</text> </g> </g> <g id="ytick_26"> <g id="line2d_97"> <g> <use href="#mfa2b56b965" x="248.544" y="350.3232" style="stroke: #000000; stroke-width: 0.6"/> </g> </g> <g id="text_69"> <text x="-0 6.56 9.84" y="0" style="font-size:11.8px" transform="translate(244.34 354.12) translate(-15.9 0) scale(0.9695 1)">0.2</text> </g> </g> <g id="ytick_27"> <g id="line2d_98"> <g> <use href="#mfa2b56b965" x="248.544" y="320.9184" style="stroke: #000000; stroke-width: 0.6"/> </g> </g> <g id="text_70"> <text x="-0 6.56 9.84" y="0" style="font-size:11.8px" transform="translate(244.34 324.72) translate(-15.9 0) scale(0.9695 1)">0.4</text> </g> </g> <g id="ytick_28"> <g id="line2d_99"> <g> <use href="#mfa2b56b965" x="248.544" y="291.5136" style="stroke: #000000; stroke-width: 0.6"/> </g> </g> <g id="text_71"> <text x="-0 6.56 9.84" y="0" style="font-size:11.8px" transform="translate(244.34 295.31) translate(-15.9 0) scale(0.9695 1)">0.6</text> </g> </g> <g id="ytick_29"> <g id="line2d_100"> <g> <use href="#mfa2b56b965" x="248.544" y="262.1088" style="stroke: #000000; stroke-width: 0.6"/> </g> </g> <g id="text_72"> <text x="-0 6.56 9.84" y="0" style="font-size:11.8px" transform="translate(244.34 265.91) translate(-15.9 0) scale(0.9695 1)">0.8</text> </g> </g> <g id="ytick_30"> <g id="line2d_101"> <g> <use href="#mfa2b56b965" x="248.544" y="232.704" style="stroke: #000000; stroke-width: 0.6"/> </g> </g> <g id="text_73"> <text x="-0 6.56 9.84" y="0" style="font-size:11.8px" transform="translate(244.34 236.5) translate(-15.9 0) scale(0.9695 1)">1.0</text> </g> </g> <g id="text_74"> <text x="-0.03 6.24 13.48 18.17 22.54 26.59 34.86 42.11 49.36 56.62 63.9 70.48 77.68 80.96 89.23 96.49 103.74 111 118.28 124.85 132.12" y="0" style="font-size:12.66px" transform="translate(223.09 306.22) rotate(-90) translate(-67.61 0) scale(0.9910 1)">corr(HF300k1,HF100k1)</text> </g> </g> <g id="line2d_102"> <path d="M 290.016 379.728 L 290.016 232.704 " clip-path="url(#pa0bd80ae73)" style="fill: none; stroke-dasharray: 3.7,1.6; stroke-dashoffset: 0; stroke: #808080"/> </g> <g id="line2d_103"> <path d="M 248.544 338.976 L 396 338.976 " clip-path="url(#pa0bd80ae73)" style="fill: none; stroke-dasharray: 3.7,1.6; stroke-dashoffset: 0; stroke: #808080"/> </g> <g id="line2d_104"> <g clip-path="url(#pa0bd80ae73)"> <use href="#m5a22eccf31" x="369.792" y="244.656" style="fill: #6ba6e9; stroke: #6ba6e9; stroke-width: 0.5; stroke-linejoin: bevel"/> </g> </g> <g id="line2d_105"> <g clip-path="url(#pa0bd80ae73)"> <use href="#mae2730d589" x="319.104" y="293.832" style="fill: #d95f02; stroke: #d95f02; stroke-width: 0.5; stroke-linejoin: bevel"/> </g> </g> <g id="line2d_106"> <g clip-path="url(#pa0bd80ae73)"> <use href="#m6d7258205c" x="367.704" y="244.8" style="fill: #d6ce2e; stroke: #d6ce2e; stroke-width: 0.5; stroke-linejoin: bevel"/> </g> </g> <g id="line2d_107"> <g clip-path="url(#pa0bd80ae73)"> <use href="#ma66a41088c" x="364.32" y="263.088" style="fill: #6b9a2c; stroke: #6b9a2c; stroke-width: 0.5; stroke-linejoin: bevel"/> </g> </g> <g id="line2d_108"> <g clip-path="url(#pa0bd80ae73)"> <use href="#m776f7f7f80" x="366.48" y="252.144" style="fill: #bca4dd; stroke: #bca4dd; stroke-width: 0.5; stroke-linejoin: bevel"/> </g> </g> <g id="line2d_109"> <g clip-path="url(#pa0bd80ae73)"> <use href="#m37d7a6bea6" x="359.712" y="256.752" style="fill: #7a0000; stroke: #7a0000; stroke-width: 0.5; stroke-linejoin: bevel"/> </g> </g> <g id="line2d_110"> <g clip-path="url(#pa0bd80ae73)"> <use href="#m835cb8bf85" x="359.568" y="262.944" style="fill: #7836ae; stroke: #7836ae; stroke-width: 0.5; stroke-linejoin: bevel"/> </g> </g> <g id="patch_23"> <path d="M 248.544 379.728 L 248.544 232.704 " style="fill: none; stroke: #000000; stroke-width: 0.6; stroke-linejoin: miter; stroke-linecap: square"/> </g> <g id="patch_24"> <path d="M 396 379.728 L 396 232.704 " style="fill: none; stroke: #000000; stroke-width: 0.6; stroke-linejoin: miter; stroke-linecap: square"/> </g> <g id="patch_25"> <path d="M 248.544 379.728 L 396 379.728 " style="fill: none; stroke: #000000; stroke-width: 0.6; stroke-linejoin: miter; stroke-linecap: square"/> </g> <g id="patch_26"> <path d="M 248.544 232.704 L 396 232.704 " style="fill: none; stroke: #000000; stroke-width: 0.6; stroke-linejoin: miter; stroke-linecap: square"/> </g> <g id="text_75"> <text x="0.02 7.17 11.6 15.14 18.68 22.22 25.76 29.3 32.84 36.38 39.92 43.46 46.5 53.82 60.93 72.46 79.54 86.61 93.69" y="0" style="font-size:12.32px;font-weight:700" transform="translate(322.27 229.2) translate(-54.44 0) scale(1.0818 1)">e)          SSW2019</text> </g> </g> <g id="axes_6"> <g id="patch_27"> <path d="M 448.704 379.728 L 597.6 379.728 L 597.6 232.704 L 448.704 232.704 z " style="fill: #ffffff"/> </g> <g id="line2d_111"> <g clip-path="url(#pcefc3cd22d)"> <use href="#maff2723c5c" x="542.88" y="248.976" style="fill: #5ab8c0; stroke: #5ab8c0; stroke-width: 0.5"/> </g> </g> <g id="matplotlib.axis_11"> <g id="xtick_31"> <g id="line2d_112"> <g> <use href="#m4820a3fe7b" x="448.704" y="379.728" style="stroke: #000000; stroke-width: 0.6"/> </g> </g> <g id="text_76"> <text x="-0 6.56 9.84" y="0" style="font-size:11.8px" transform="translate(448.7 392.83) translate(-7.95 0) scale(0.9695 1)">0.0</text> </g> </g> <g id="xtick_32"> <g id="line2d_113"> <g> <use href="#m4820a3fe7b" x="478.4832" y="379.728" style="stroke: #000000; stroke-width: 0.6"/> </g> </g> <g id="text_77"> <text x="-0 6.56 9.84" y="0" style="font-size:11.8px" transform="translate(478.48 392.83) translate(-7.95 0) scale(0.9695 1)">0.2</text> </g> </g> <g id="xtick_33"> <g id="line2d_114"> <g> <use href="#m4820a3fe7b" x="508.2624" y="379.728" style="stroke: #000000; stroke-width: 0.6"/> </g> </g> <g id="text_78"> <text x="-0 6.56 9.84" y="0" style="font-size:11.8px" transform="translate(508.26 392.83) translate(-7.95 0) scale(0.9695 1)">0.4</text> </g> </g> <g id="xtick_34"> <g id="line2d_115"> <g> <use href="#m4820a3fe7b" x="538.0416" y="379.728" style="stroke: #000000; stroke-width: 0.6"/> </g> </g> <g id="text_79"> <text x="-0 6.56 9.84" y="0" style="font-size:11.8px" transform="translate(538.04 392.83) translate(-7.95 0) scale(0.9695 1)">0.6</text> </g> </g> <g id="xtick_35"> <g id="line2d_116"> <g> <use href="#m4820a3fe7b" x="567.8208" y="379.728" style="stroke: #000000; stroke-width: 0.6"/> </g> </g> <g id="text_80"> <text x="-0 6.56 9.84" y="0" style="font-size:11.8px" transform="translate(567.82 392.83) translate(-7.95 0) scale(0.9695 1)">0.8</text> </g> </g> <g id="xtick_36"> <g id="line2d_117"> <g> <use href="#m4820a3fe7b" x="597.6" y="379.728" style="stroke: #000000; stroke-width: 0.6"/> </g> </g> <g id="text_81"> <text x="-0 6.56 9.84" y="0" style="font-size:11.8px" transform="translate(597.6 392.83) translate(-7.95 0) scale(0.9695 1)">1.0</text> </g> </g> <g id="text_82"> <text x="-0.07 6.13 13.3 17.94 22.25 26.23 34.41 41.58 48.75 55.93 63.13 69.62 76.76 80.31 88.1 95.27 102.44 109.64" y="0" style="font-size:12.66px" transform="translate(523.15 406.49) translate(-57.12 0) scale(1.0026 1)">corr(HF300k1,Z500)</text> </g> </g> <g id="matplotlib.axis_12"> <g id="ytick_31"> <g id="line2d_118"> <g> <use href="#mfa2b56b965" x="448.704" y="379.728" style="stroke: #000000; stroke-width: 0.6"/> </g> </g> <g id="text_83"> <text x="-0 6.56 9.84" y="0" style="font-size:11.8px" transform="translate(444.5 383.53) translate(-15.9 0) scale(0.9695 1)">0.0</text> </g> </g> <g id="ytick_32"> <g id="line2d_119"> <g> <use href="#mfa2b56b965" x="448.704" y="350.3232" style="stroke: #000000; stroke-width: 0.6"/> </g> </g> <g id="text_84"> <text x="-0 6.56 9.84" y="0" style="font-size:11.8px" transform="translate(444.5 354.12) translate(-15.9 0) scale(0.9695 1)">0.2</text> </g> </g> <g id="ytick_33"> <g id="line2d_120"> <g> <use href="#mfa2b56b965" x="448.704" y="320.9184" style="stroke: #000000; stroke-width: 0.6"/> </g> </g> <g id="text_85"> <text x="-0 6.56 9.84" y="0" style="font-size:11.8px" transform="translate(444.5 324.72) translate(-15.9 0) scale(0.9695 1)">0.4</text> </g> </g> <g id="ytick_34"> <g id="line2d_121"> <g> <use href="#mfa2b56b965" x="448.704" y="291.5136" style="stroke: #000000; stroke-width: 0.6"/> </g> </g> <g id="text_86"> <text x="-0 6.56 9.84" y="0" style="font-size:11.8px" transform="translate(444.5 295.31) translate(-15.9 0) scale(0.9695 1)">0.6</text> </g> </g> <g id="ytick_35"> <g id="line2d_122"> <g> <use href="#mfa2b56b965" x="448.704" y="262.1088" style="stroke: #000000; stroke-width: 0.6"/> </g> </g> <g id="text_87"> <text x="-0 6.56 9.84" y="0" style="font-size:11.8px" transform="translate(444.5 265.91) translate(-15.9 0) scale(0.9695 1)">0.8</text> </g> </g> <g id="ytick_36"> <g id="line2d_123"> <g> <use href="#mfa2b56b965" x="448.704" y="232.704" style="stroke: #000000; stroke-width: 0.6"/> </g> </g> <g id="text_88"> <text x="-0 6.56 9.84" y="0" style="font-size:11.8px" transform="translate(444.5 236.5) translate(-15.9 0) scale(0.9695 1)">1.0</text> </g> </g> <g id="text_89"> <text x="-0.03 6.24 13.48 18.17 22.54 26.59 34.86 42.11 49.36 56.62 63.9 70.48 77.68 80.96 89.23 96.49 103.74 111 118.28 124.85 132.12" y="0" style="font-size:12.66px" transform="translate(423.25 306.22) rotate(-90) translate(-67.61 0) scale(0.9910 1)">corr(HF300k1,HF100k1)</text> </g> </g> <g id="line2d_124"> <path d="M 490.32 379.728 L 490.32 232.704 " clip-path="url(#pcefc3cd22d)" style="fill: none; stroke-dasharray: 3.7,1.6; stroke-dashoffset: 0; stroke: #808080"/> </g> <g id="line2d_125"> <path d="M 448.704 338.976 L 597.6 338.976 " clip-path="url(#pcefc3cd22d)" style="fill: none; stroke-dasharray: 3.7,1.6; stroke-dashoffset: 0; stroke: #808080"/> </g> <g id="line2d_126"> <g clip-path="url(#pcefc3cd22d)"> <use href="#m5a22eccf31" x="555.264" y="272.88" style="fill: #6ba6e9; stroke: #6ba6e9; stroke-width: 0.5; stroke-linejoin: bevel"/> </g> </g> <g id="line2d_127"> <g clip-path="url(#pcefc3cd22d)"> <use href="#mae2730d589" x="513.072" y="301.68" style="fill: #d95f02; stroke: #d95f02; stroke-width: 0.5; stroke-linejoin: bevel"/> </g> </g> <g id="line2d_128"> <g clip-path="url(#pcefc3cd22d)"> <use href="#m6d7258205c" x="534.528" y="279.36" style="fill: #d6ce2e; stroke: #d6ce2e; stroke-width: 0.5; stroke-linejoin: bevel"/> </g> </g> <g id="line2d_129"> <g clip-path="url(#pcefc3cd22d)"> <use href="#ma66a41088c" x="543.312" y="289.008" style="fill: #6b9a2c; stroke: #6b9a2c; stroke-width: 0.5; stroke-linejoin: bevel"/> </g> </g> <g id="line2d_130"> <g clip-path="url(#pcefc3cd22d)"> <use href="#m776f7f7f80" x="546.48" y="281.664" style="fill: #bca4dd; stroke: #bca4dd; stroke-width: 0.5; stroke-linejoin: bevel"/> </g> </g> <g id="line2d_131"> <g clip-path="url(#pcefc3cd22d)"> <use href="#m835cb8bf85" x="561.6" y="289.008" style="fill: #7836ae; stroke: #7836ae; stroke-width: 0.5; stroke-linejoin: bevel"/> </g> </g> <g id="line2d_132"> <g clip-path="url(#pcefc3cd22d)"> <use href="#m37d7a6bea6" x="552.384" y="278.496" style="fill: #7a0000; stroke: #7a0000; stroke-width: 0.5; stroke-linejoin: bevel"/> </g> </g> <g id="patch_28"> <path d="M 448.704 379.728 L 448.704 232.704 " style="fill: none; stroke: #000000; stroke-width: 0.6; stroke-linejoin: miter; stroke-linecap: square"/> </g> <g id="patch_29"> <path d="M 597.6 379.728 L 597.6 232.704 " style="fill: none; stroke: #000000; stroke-width: 0.6; stroke-linejoin: miter; stroke-linecap: square"/> </g> <g id="patch_30"> <path d="M 448.704 379.728 L 597.6 379.728 " style="fill: none; stroke: #000000; stroke-width: 0.6; stroke-linejoin: miter; stroke-linecap: square"/> </g> <g id="patch_31"> <path d="M 448.704 232.704 L 597.6 232.704 " style="fill: none; stroke: #000000; stroke-width: 0.6; stroke-linejoin: miter; stroke-linecap: square"/> </g> <g id="text_90"> <text x="0.19 4.77 9.26 12.84 16.42 20 23.58 27.16 30.74 33.84 41.25 48.46 60.1 67.26 74.41 81.57 88.65 91.75 99.42" y="0" style="font-size:12.32px;font-weight:700" transform="translate(523.15 229.2) translate(-57.84 0) scale(1.0694 1)">f)       SSW2019 SH</text> </g> </g> <g id="text_91"> <text x="-0.36 7.2 16.15 22.29 28.35 36.73 41.03 49.83 55.33 59.31 68.01 76.54 84.43 88.76 93.09 97.42 102.03 107.09 115.32 124.76 133.26 142.78" y="0" style="font-size:14.56px;font-weight:700" transform="translate(320.54 18.29) translate(-82.13 0) scale(1.1095 1)">correlations    (FREE)</text> </g> <g id="legend_1"> <g id="patch_32"> <path d="M 601.04 161.925 L 709.299375 161.925 Q 711.299375 161.925 711.299375 159.925 L 711.299375 34.4 Q 711.299375 32.4 709.299375 32.4 L 601.04 32.4 Q 599.04 32.4 599.04 34.4 L 599.04 159.925 Q 599.04 161.925 601.04 161.925 z " style="fill: #ffffff; opacity: 0.8; stroke: #cccccc; stroke-linejoin: miter"/> </g> <g id="line2d_133"> <g> <use href="#m5a22eccf31" x="613.04" y="40.498437" style="fill: #6ba6e9; stroke: #6ba6e9; stroke-width: 0.5; stroke-linejoin: bevel"/> </g> </g> <g id="text_92"> <text x="-0.23 7.77 15.07 22.73 33.01 40.08 43.89 52.19 60.14 70.42" y="0" style="font-size:11.8px" transform="translate(631.04 44) translate(0 0) scale(0.8668 1)">CESM2-CAM6</text> </g> <g id="line2d_134"> <g> <use href="#mae2730d589" x="613.04" y="56.476562" style="fill: #d95f02; stroke: #d95f02; stroke-width: 0.5; stroke-linejoin: bevel"/> </g> </g> <g id="text_93"> <text x="-0.27 7.99 16.23 24.47 34.41 38.16 46.42 56.62 63.89" y="0" style="font-size:11.8px" transform="translate(631.04 59.98) translate(0 0) scale(0.8755 1)">CNRM-CM61</text> </g> <g id="line2d_135"> <g> <use href="#m6d7258205c" x="613.04" y="72.454687" style="fill: #d6ce2e; stroke: #d6ce2e; stroke-width: 0.5; stroke-linejoin: bevel"/> </g> </g> <g id="text_94"> <text x="0.01 9.21 15.87 24.84 32.92" y="0" style="font-size:11.8px" transform="translate(631.04 75.95) translate(0 0) scale(0.8433 1)">GLOBO</text> </g> <g id="line2d_136"> <g> <use href="#ma66a41088c" x="613.04" y="88.432812" style="fill: #6b9a2c; stroke: #6b9a2c; stroke-width: 0.5; stroke-linejoin: bevel"/> </g> </g> <g id="text_95"> <text x="-0.07 8.82 17.22 20.69 30.72" y="0" style="font-size:11.8px" transform="translate(631.04 91.93) translate(0 0) scale(0.8577 1)">GRIMs</text> </g> <g id="line2d_137"> <g> <use href="#m776f7f7f80" x="613.04" y="104.410937" style="fill: #bca4dd; stroke: #bca4dd; stroke-width: 0.5; stroke-linejoin: bevel"/> </g> </g> <g id="text_96"> <text x="-0.27 7.25 16.88 24.7 28.18 37.75 40.76 47.08 54.73 61.59 68.58" y="0" style="font-size:11.8px" transform="translate(631.04 107.91) translate(0 0) scale(0.8939 1)">KMA-GloSea6</text> </g> <g id="line2d_138"> <g> <use href="#m835cb8bf85" x="613.04" y="120.389062" style="fill: #7836ae; stroke: #7836ae; stroke-width: 0.5; stroke-linejoin: bevel"/> </g> </g> <g id="text_97"> <text x="-0.17 7.91 15.42 24.97 34.01 38.04 47.61 50.62 56.93 64.57 71.43 78.41" y="0" style="font-size:11.8px" transform="translate(631.04 123.89) translate(0 0) scale(0.8946 1)">UKMO-GloSea6</text> </g> <g id="line2d_139"> <g> <use href="#m37d7a6bea6" x="613.04" y="136.367188" style="fill: #7a0000; stroke: #7a0000; stroke-width: 0.5; stroke-linejoin: bevel"/> </g> </g> <g id="text_98"> <text x="0.18 3.59 10.72" y="0" style="font-size:11.8px" transform="translate(631.04 139.87) translate(0 0) scale(0.8102 1)">IFS</text> </g> <g id="line2d_140"> <g> <use href="#maff2723c5c" x="613.04" y="152.345312" style="fill: #5ab8c0; stroke: #5ab8c0; stroke-width: 0.5"/> </g> </g> <g id="text_99"> <text x="0.09 8.74 16.7 23.79 32.62 40.33" y="0" style="font-size:11.8px" transform="translate(631.04 155.85) translate(0 0) scale(0.8598 1)">NAVGEM</text> </g> </g> </g> <defs> <clipPath id="pabbf2b5a39"> <rect x="49.824" y="32.4" width="146.736" height="145.44"/> </clipPath> <clipPath id="p98be9c0c4a"> <rect x="248.184" y="32.4" width="145.656" height="145.44"/> </clipPath> <clipPath id="p1741dfff88"> <rect x="445.68" y="32.4" width="146.16" height="145.44"/> </clipPath> <clipPath id="pd72660872e"> <rect x="48.96" y="232.704" width="148.176" height="147.024"/> </clipPath> <clipPath id="pa0bd80ae73"> <rect x="248.544" y="232.704" width="147.456" height="147.024"/> </clipPath> <clipPath id="pcefc3cd22d"> <rect x="448.704" y="232.704" width="148.896" height="147.024"/> </clipPath> </defs> </svg> 
</body></html>
